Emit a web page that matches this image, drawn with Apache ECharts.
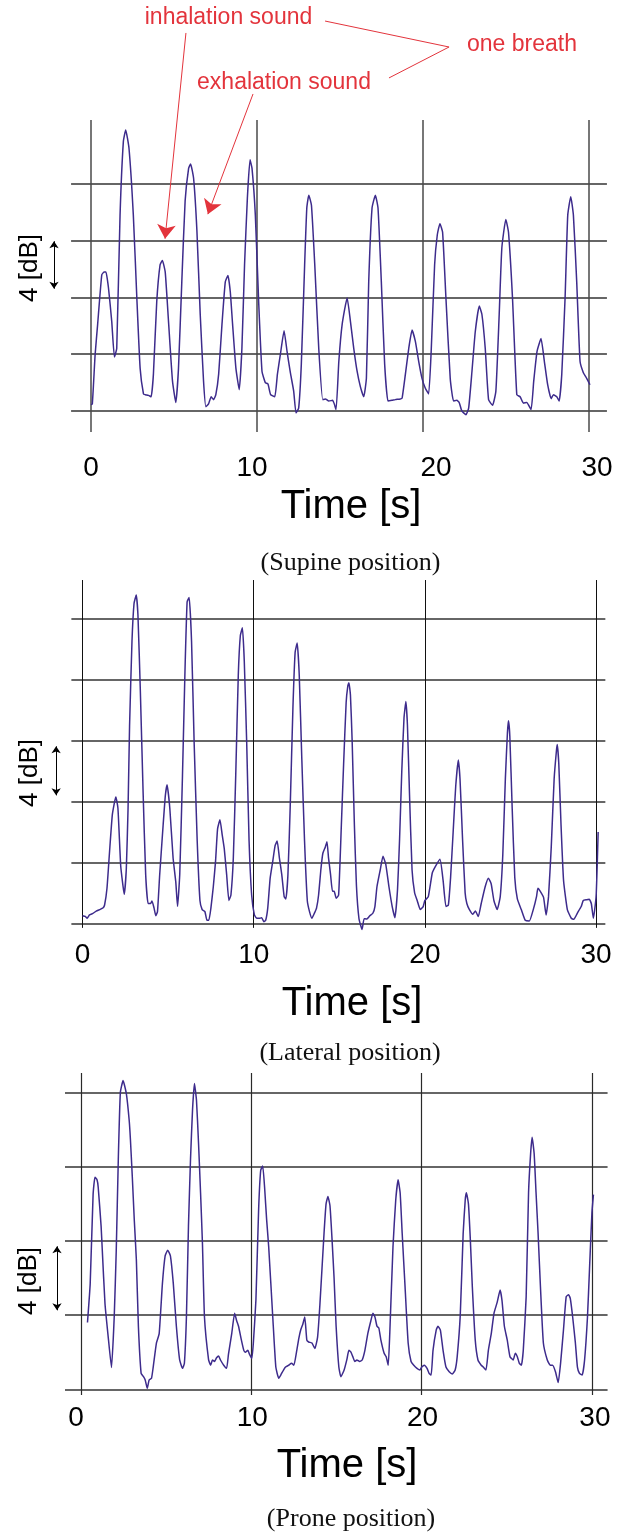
<!DOCTYPE html>
<html>
<head>
<meta charset="utf-8">
<title>Breath sound level in three positions</title>
<script src="https://cdn.jsdelivr.net/npm/echarts@6/dist/echarts.min.js"></script>
<style>
  html, body { margin: 0; padding: 0; background: #ffffff; }
  #chart { width: 628px; height: 1533px; }
</style>
</head>
<body>
<div id="chart"></div>
<script>
// ---- data: sound level (dB, relative) against time (s) ----
const timeTicks = [0, 10, 20, 30];

const supineTime = [
  0, 0.08, 0.25, 0.4, 0.65, 0.8, 0.9, 1.05, 1.25, 1.41,
  1.55, 1.75, 1.95, 2.09, 2.29, 2.55, 2.76, 2.96, 3.16, 3.26,
  3.46, 3.62, 3.76, 3.96, 4.16, 4.30, 4.47, 4.67, 4.91, 5.11,
  5.27, 5.47, 5.67, 5.88, 6.0, 6.18, 6.38, 6.58, 6.78, 6.92,
  7.08, 7.24, 7.38, 7.52, 7.69, 7.89, 8.09, 8.25, 8.39, 8.53,
  8.73, 8.93, 9.09, 9.25, 9.42, 9.58, 9.70, 9.90, 10.1, 10.3,
  10.5, 10.66, 10.82, 11.07, 11.23, 11.41, 11.63, 11.81, 12.01, 12.21,
  12.35, 12.51, 12.67, 12.87, 13.0, 13.12, 13.28, 13.48, 13.72, 13.96,
  14.12, 14.32, 14.56, 14.76, 14.93, 15.13, 15.43, 15.63, 15.83, 16.03,
  16.23, 16.43, 16.59, 16.73, 16.93, 17.13, 17.29, 17.49, 17.69, 17.89,
  18.13, 18.33, 18.63, 18.74, 18.94, 19.14, 19.34, 19.54, 19.74, 19.94,
  20.14, 20.34, 20.5, 20.7, 20.86, 21.02, 21.18, 21.38, 21.64, 21.84,
  22.04, 22.18, 22.34, 22.59, 22.75, 22.95, 23.15, 23.39, 23.55, 23.75,
  23.95, 24.19, 24.39, 24.59, 24.75, 24.99, 25.15, 25.39, 25.65, 25.85,
  26.05, 26.25, 26.51, 26.67, 26.87, 27.11, 27.31, 27.51, 27.72, 27.86,
  28.06, 28.2, 28.36, 28.56, 28.72, 28.9, 29.06, 29.26, 29.46, 29.66,
  29.86, 30.06
];
const supineLevel = [
  0.45, 0.5, 4.0, 6.1, 9.6, 9.8, 9.8, 8.7, 6.3, 3.8,
  4.4, 13.8, 19.0, 19.8, 18.5, 13.8, 8.0, 3.0, 1.2, 1.15,
  1.1, 1.0, 2.6, 7.7, 10.3, 10.6, 9.8, 6.3, 2.1, 0.6,
  3.0, 9.1, 14.8, 17.1, 17.4, 16.4, 12.7, 6.8, 2.1, 0.3,
  0.5, 1.0, 0.8, 1.15, 2.6, 6.1, 9.1, 9.55, 8.4, 6.1,
  3.0, 1.5, 4.4, 10.3, 15.0, 17.7, 17.1, 13.8, 7.7, 2.8,
  2.0, 1.9, 1.15, 1.0, 2.6, 4.0, 5.66, 4.2, 2.7, 1.4,
  -0.14, 0.2, 3.3, 10.3, 14.3, 15.2, 14.5, 10.3, 4.4, 0.8,
  0.85, 0.7, 0.75, 0.1, 3.5, 6.1, 7.96, 6.3, 4.4, 2.8,
  1.7, 1.0, 2.3, 9.1, 14.3, 15.2, 14.3, 9.1, 3.3, 0.7,
  0.75, 0.8, 0.85, 0.9, 2.6, 4.4, 5.7, 4.9, 3.5, 2.3,
  1.6, 1.2, 4.4, 10.3, 12.4, 13.2, 12.6, 8.0, 2.3, 0.7,
  0.75, 0.6, 0.0, -0.26, 0.2, 2.8, 5.6, 7.4, 6.8, 4.4,
  0.8, 0.4, 1.4, 6.8, 11.5, 13.5, 12.6, 8.0, 1.15, 1.0,
  0.55, 0.6, 0.1, 2.1, 4.2, 5.1, 3.5, 1.85, 0.87, 1.15,
  1.0, 0.7, 2.6, 8.0, 13.8, 15.1, 13.8, 9.1, 3.5, 2.7,
  2.3, 1.85
];

const lateralTime = [
  0.00, 0.16, 0.27, 0.41, 0.61, 0.80, 1.00, 1.19, 1.29, 1.43,
  1.58, 1.74, 1.88, 1.95, 2.07, 2.23, 2.36, 2.44, 2.56, 2.66,
  2.75, 2.89, 3.01, 3.14, 3.24, 3.38, 3.54, 3.69, 3.83, 3.98,
  4.06, 4.18, 4.28, 4.38, 4.51, 4.71, 4.84, 4.94, 5.10, 5.29,
  5.45, 5.55, 5.68, 5.84, 5.98, 6.11, 6.23, 6.37, 6.52, 6.70,
  6.86, 6.99, 7.15, 7.27, 7.38, 7.50, 7.64, 7.77, 7.89, 8.03,
  8.16, 8.28, 8.42, 8.55, 8.67, 8.81, 8.95, 9.10, 9.22, 9.34,
  9.45, 9.59, 9.73, 9.88, 10.04, 10.18, 10.37, 10.47, 10.59, 10.70,
  10.82, 10.96, 11.11, 11.25, 11.37, 11.50, 11.64, 11.78, 11.88, 12.00,
  12.13, 12.29, 12.42, 12.54, 12.66, 12.81, 12.97, 13.13, 13.26, 13.40,
  13.54, 13.67, 13.79, 13.93, 14.04, 14.18, 14.28, 14.37, 14.49, 14.60,
  14.70, 14.82, 14.96, 15.12, 15.25, 15.40, 15.50, 15.56, 15.65, 15.75,
  15.88, 16.00, 16.15, 16.33, 16.45, 16.61, 16.77, 16.96, 17.08, 17.20,
  17.39, 17.55, 17.71, 17.90, 18.09, 18.25, 18.40, 18.52, 18.65, 18.78,
  18.89, 18.98, 19.10, 19.25, 19.40, 19.55, 19.73, 19.90, 20.00, 20.20,
  20.43, 20.60, 20.88, 21.06, 21.23, 21.37, 21.50, 21.65, 21.80, 21.95,
  22.05, 22.20, 22.35, 22.45, 22.60, 22.80, 22.95, 23.12, 23.29, 23.52,
  23.71, 23.87, 24.03, 24.22, 24.40, 24.55, 24.70, 24.82, 24.88, 24.96,
  25.10, 25.25, 25.40, 25.63, 25.86, 26.10, 26.33, 26.52, 26.60, 26.74,
  26.93, 27.08, 27.22, 27.38, 27.55, 27.68, 27.73, 27.82, 27.95, 28.10,
  28.32, 28.55, 28.70, 28.90, 29.13, 29.25, 29.45, 29.60, 29.72, 29.84,
  30.00, 30.12
];
const lateralLevel = [
  0.5, 0.45, 0.33, 0.55, 0.65, 0.8, 0.9, 1.0, 1.2, 2.3,
  4.7, 7.1, 8.0, 8.3, 7.55, 3.8, 2.5, 1.9, 3.6, 7.5,
  13.0, 18.5, 21.0, 21.55, 20.2, 15.2, 8.6, 3.2, 1.3, 1.3,
  1.47, 1.0, 0.5, 0.77, 3.2, 6.45, 8.4, 9.1, 7.55, 4.3,
  2.7, 1.1, 3.2, 9.7, 16.3, 21.1, 21.4, 18.5, 11.9, 5.4,
  1.5, 0.9, 0.77, 0.2, 0.2, 1.0, 2.4, 4.05, 6.2, 6.8,
  5.8, 4.9, 3.2, 1.5, 1.86, 4.3, 9.7, 16.3, 18.9, 19.4,
  17.2, 11.9, 5.4, 1.86, 0.55, 0.33, 0.33, 0.37, 0.1, 0.2,
  1.0, 2.95, 4.05, 5.1, 5.4, 4.3, 3.2, 1.75, 1.6, 3.2,
  7.55, 14.1, 17.8, 18.4, 16.3, 10.8, 5.4, 1.5, 0.77, 0.33,
  0.65, 1.0, 1.86, 3.6, 4.6, 5.0, 5.36, 4.3, 3.2, 2.1,
  2.1, 1.64, 1.86, 6.45, 10.4, 14.5, 15.6, 15.8, 15.0, 12.0,
  6.5, 2.5, 0.3, -0.4, 0.3, 0.28, 0.48, 0.66, 1.1, 2.4,
  3.5, 4.4, 3.9, 2.4, 1.1, 0.37, 2.2, 5.5, 10.0, 13.5,
  14.56, 13.0, 8.5, 3.5, 2.0, 1.5, 0.9, 1.1, 1.5, 1.75,
  3.3, 3.7, 4.2, 2.85, 1.1, 1.2, 3.0, 6.0, 9.0, 10.73,
  9.5, 5.5, 2.0, 1.3, 0.9, 0.6, 0.8, 0.44, 1.3, 2.4,
  2.96, 2.6, 1.5, 0.9, 1.75, 4.5, 9.5, 12.5, 13.3, 12.3,
  7.5, 3.0, 1.6, 0.9, 0.2, 0.15, 0.9, 1.75, 2.3, 2.1,
  1.7, 0.55, 1.75, 5.0, 9.5, 11.3, 11.74, 10.5, 6.5, 2.8,
  0.9, 0.33, 0.26, 0.66, 1.1, 1.5, 1.55, 1.58, 1.3, 0.33,
  1.75, 6.0
];

const proneTime = [
  0.38, 0.54, 0.71, 0.82, 0.94, 1.01, 1.18, 1.25, 1.41, 1.60,
  1.79, 1.95, 2.07, 2.19, 2.31, 2.47, 2.66, 2.83, 2.90, 3.01,
  3.13, 3.25, 3.37, 3.53, 3.67, 3.77, 3.89, 4.00, 4.14, 4.24,
  4.43, 4.59, 4.78, 4.94, 5.09, 5.25, 5.42, 5.60, 5.79, 5.96,
  6.07, 6.19, 6.31, 6.43, 6.55, 6.66, 6.78, 6.90, 7.02, 7.13,
  7.25, 7.49, 7.61, 7.72, 7.84, 7.96, 8.08, 8.19, 8.38, 8.55,
  8.66, 8.85, 9.02, 9.14, 9.25, 9.42, 9.56, 9.65, 9.80, 9.89,
  10.03, 10.12, 10.27, 10.43, 10.55, 10.67, 10.78, 10.90, 11.02, 11.26,
  11.44, 11.61, 11.73, 11.89, 12.01, 12.20, 12.36, 12.50, 12.67, 12.79,
  12.90, 13.02, 13.14, 13.26, 13.37, 13.56, 13.73, 13.89, 14.03, 14.27,
  14.39, 14.50, 14.62, 14.74, 14.86, 14.98, 15.14, 15.26, 15.45, 15.61,
  15.73, 15.85, 15.96, 16.08, 16.20, 16.36, 16.51, 16.67, 16.84, 17.02,
  17.14, 17.26, 17.38, 17.49, 17.61, 17.80, 17.92, 18.04, 18.13, 18.32,
  18.48, 18.62, 18.74, 18.86, 19.03, 19.21, 19.38, 19.54, 19.73, 19.90,
  20.01, 20.16, 20.32, 20.44, 20.56, 20.67, 20.86, 20.96, 21.10, 21.26,
  21.43, 21.62, 21.80, 21.97, 22.09, 22.27, 22.44, 22.56, 22.63, 22.75,
  22.86, 22.98, 23.15, 23.31, 23.50, 23.62, 23.78, 23.92, 24.09, 24.25,
  24.44, 24.61, 24.72, 24.86, 25.03, 25.19, 25.38, 25.50, 25.62, 25.74,
  25.86, 25.97, 26.14, 26.28, 26.40, 26.49, 26.61, 26.72, 26.84, 26.98,
  27.15, 27.38, 27.55, 27.69, 27.86, 28.02, 28.16, 28.33, 28.49, 28.63,
  28.73, 28.87, 29.03, 29.15, 29.27, 29.43, 29.57, 29.74, 29.86, 30.00,
  30.09
];
const proneLevel = [
  3.6, 5.7, 10.5, 11.44, 11.3, 10.9, 8.8, 7.5, 4.6, 2.8,
  1.17, 3.9, 7.5, 12.4, 16.0, 16.65, 15.96, 14.5, 13.5, 11.5,
  9.1, 7.0, 3.4, 0.86, 0.68, 0.5, 0.05, 0.5, 0.6, 1.2,
  2.5, 3.0, 5.7, 7.2, 7.5, 7.2, 5.7, 3.4, 1.6, 1.13,
  1.4, 3.9, 8.8, 12.4, 15.1, 16.5, 15.6, 13.3, 10.6, 7.9,
  3.9, 1.6, 1.3, 1.58, 1.5, 1.7, 1.8, 1.58, 1.3, 1.13,
  1.9, 3.0, 4.1, 3.7, 3.4, 2.65, 2.1, 2.0, 2.1, 1.9,
  1.67, 2.5, 4.8, 9.7, 11.8, 12.05, 10.9, 9.15, 7.7, 3.9,
  1.2, 0.6, 0.77, 1.04, 1.2, 1.3, 1.4, 1.3, 2.1, 2.75,
  3.2, 3.5, 3.9, 2.65, 2.55, 2.5, 2.2, 2.8, 4.6, 8.4,
  10.0, 10.4, 9.9, 8.1, 6.0, 3.4, 1.2, 0.68, 1.04, 1.6,
  2.1, 2.0, 1.76, 1.5, 1.58, 1.5, 1.58, 2.1, 3.0, 3.7,
  4.1, 3.9, 3.4, 3.3, 2.65, 1.94, 1.76, 1.3, 3.0, 7.7,
  10.2, 11.3, 10.6, 8.4, 5.5, 2.5, 1.5, 1.3, 1.13, 1.04,
  1.2, 1.3, 1.13, 0.86, 0.77, 2.1, 3.2, 3.4, 3.2, 2.1,
  1.2, 0.95, 0.83, 1.04, 1.76, 4.0, 8.4, 10.2, 10.6, 10.0,
  8.1, 5.5, 2.65, 1.58, 1.3, 1.2, 1.04, 2.1, 3.0, 4.1,
  4.7, 5.35, 4.8, 3.4, 2.65, 1.76, 1.58, 1.94, 1.76, 1.4,
  1.3, 2.1, 5.0, 10.6, 12.7, 13.6, 12.7, 10.6, 8.4, 5.5,
  2.5, 1.58, 1.3, 1.3, 0.95, 0.36, 1.4, 3.2, 5.0, 5.1,
  4.9, 3.9, 2.5, 1.2, 0.86, 0.77, 1.58, 3.9, 6.5, 9.5,
  10.5
];

// horizontal reference levels, one line every 4 dB
const supineGridLevels = [0, 4, 8, 12, 16];
const lateralGridLevels = [0, 4, 8, 12, 16, 20];
const proneGridLevels = [0, 4, 8, 12, 16];

// ---- layout and style of the three panels ----
const TRACE = '#3d2b8c';
const RED = '#e3343c';
const SANS = 'Liberation Sans, Arial, sans-serif';
const SERIF = 'Liberation Serif, Times New Roman, serif';

const panels = [
  {
    time: supineTime, level: supineLevel, levels: supineGridLevels,
    grid: { left: 8.0, top: 6.56, width: 614.2, height: 443.44 },
    xRange: [-5, 32], yRange: [-2.75, 28.5],
    vSpan: [-1.48, 20.5], hSpan: [-1.2, 31.08],
    vLine: { color: '#4a4a4a', width: 1.5 }, hLine: { color: '#333333', width: 1.5 },
    dbArrow: { t: -2.23, from: 11.96, to: 8.62 },
    labelShift: [0, -5, 13, 8],
    dbText: [30, 268], timeText: [351, 507], caption: [350.5, 563], captionText: '(Supine position)'
  },
  {
    time: lateralTime, level: lateralLevel, levels: lateralGridLevels,
    grid: { left: 5.46, top: 573.01, width: 616.32, height: 364.0 },
    xRange: [-4.5, 31.5], yRange: [-0.9, 23],
    vSpan: [-0.3, 22.54], hSpan: [-0.65, 30.54],
    vLine: { color: '#111111', width: 1 }, hLine: { color: '#333333', width: 1.6 },
    dbArrow: { t: -1.54, from: 11.62, to: 8.4 },
    labelShift: [0, 0, 0, 0],
    dbText: [30, 773], timeText: [352, 1004], caption: [350, 1053], captionText: '(Lateral position)'
  },
  {
    time: proneTime, level: proneLevel, levels: proneGridLevels,
    grid: { left: 4.37, top: 1064.85, width: 613.08, height: 335.57 },
    xRange: [-4.5, 31.5], yRange: [-0.6, 17.5],
    vSpan: [-0.31, 17.06], hSpan: [-0.94, 30.92],
    vLine: { color: '#2a2a2a', width: 1.2 }, hLine: { color: '#333333', width: 1.6 },
    dbArrow: { t: -1.41, from: 7.71, to: 4.26 },
    labelShift: [-5, 1, 1, 3],
    dbText: [29, 1281], timeText: [347, 1466], caption: [351, 1519], captionText: '(Prone position)'
  }
];

function zip(xs, ys) {
  const n = Math.min(xs.length, ys.length);
  const out = [];
  for (let i = 0; i < n; i++) out.push([xs[i], ys[i]]);
  return out;
}

function tickRich(shifts) {
  const rich = {};
  shifts.forEach((s, i) => {
    rich['k' + i] = {
      fontSize: 28, fontFamily: SANS, color: '#000',
      padding: [0, s < 0 ? -2 * s : 0, 0, s > 0 ? 2 * s : 0]
    };
  });
  return rich;
}

const grids = [], xAxes = [], yAxes = [], series = [], graphics = [];

panels.forEach((p, i) => {
  grids.push(Object.assign({ containLabel: false }, p.grid));
  xAxes.push({
    type: 'value', gridIndex: i, min: p.xRange[0], max: p.xRange[1],
    axisLine: { show: false }, axisTick: { show: false }, splitLine: { show: false },
    axisLabel: {
      customValues: timeTicks, margin: 4,
      fontSize: 28, fontFamily: SANS, color: '#000',
      formatter: (v) => {
        const k = timeTicks.indexOf(v);
        return '{k' + (k < 0 ? 0 : k) + '|' + v + '}';
      },
      rich: tickRich(p.labelShift)
    }
  });
  yAxes.push({
    type: 'value', gridIndex: i, min: p.yRange[0], max: p.yRange[1], show: false
  });

  // reference grid: horizontal level lines and vertical time lines
  const hLines = p.levels.map(L => ({ coords: [[p.hSpan[0], L], [p.hSpan[1], L]], lineStyle: p.hLine }));
  const vLines = timeTicks.map(T => ({ coords: [[T, p.vSpan[0]], [T, p.vSpan[1]]], lineStyle: p.vLine }));
  series.push({
    type: 'lines', coordinateSystem: 'cartesian2d', xAxisIndex: i, yAxisIndex: i,
    silent: true, z: 1, polyline: false,
    lineStyle: { opacity: 1, curveness: 0 },
    data: hLines.concat(vLines)
  });

  // 4 dB scale bar
  series.push({
    type: 'lines', coordinateSystem: 'cartesian2d', xAxisIndex: i, yAxisIndex: i,
    silent: true, z: 2, symbol: ['arrow', 'arrow'], symbolSize: 7,
    lineStyle: { color: '#000', width: 1, opacity: 1, curveness: 0 },
    data: [{ coords: [[p.dbArrow.t, p.dbArrow.from], [p.dbArrow.t, p.dbArrow.to]] }]
  });

  // measured sound level
  series.push({
    type: 'line', xAxisIndex: i, yAxisIndex: i, z: 3,
    data: zip(p.time, p.level), showSymbol: false, symbol: 'none', smooth: 0.15,
    lineStyle: { color: TRACE, width: 1.5 }
  });

  graphics.push({
    type: 'text', x: p.dbText[0], y: p.dbText[1], rotation: Math.PI / 2, silent: true,
    style: { text: '4 [dB]', fontSize: 26, fontFamily: SANS, fill: '#000',
      align: 'center', verticalAlign: 'middle', textAlign: 'center', textVerticalAlign: 'middle' }
  });
  graphics.push({
    type: 'text', x: p.timeText[0], y: p.timeText[1], silent: true,
    style: { text: 'Time [s]', fontSize: 40, fontFamily: SANS, fill: '#000',
      align: 'center', verticalAlign: 'middle', textAlign: 'center', textVerticalAlign: 'middle' }
  });
  graphics.push({
    type: 'text', x: p.caption[0], y: p.caption[1], silent: true,
    style: { text: p.captionText, fontSize: 26, fontFamily: SERIF, fill: '#111',
      align: 'center', verticalAlign: 'middle', textAlign: 'center', textVerticalAlign: 'middle' }
  });
});

// annotation of one breath in the supine panel
series.push({
  type: 'lines', coordinateSystem: 'cartesian2d', xAxisIndex: 0, yAxisIndex: 0,
  silent: true, z: 4, symbol: ['none', 'arrow'], symbolSize: 14,
  lineStyle: { color: RED, width: 1, opacity: 1, curveness: 0 },
  data: [
    { coords: [[5.72, 26.64], [4.46, 12.14]] },
    { coords: [[9.76, 22.34], [7.04, 13.87]] }
  ]
});
series.push({
  type: 'lines', coordinateSystem: 'cartesian2d', xAxisIndex: 0, yAxisIndex: 0,
  silent: true, z: 4,
  lineStyle: { color: RED, width: 1, opacity: 1, curveness: 0 },
  data: [
    { coords: [[14.1, 27.48], [21.57, 25.65]] },
    { coords: [[21.57, 25.65], [17.95, 23.47]] }
  ]
});
[['inhalation sound', 228.5, 18], ['exhalation sound', 284, 83], ['one breath', 522, 45]].forEach(a => {
  graphics.push({
    type: 'text', x: a[1], y: a[2], silent: true,
    style: { text: a[0], fontSize: 23, fontFamily: SANS, fill: RED,
      align: 'center', verticalAlign: 'middle', textAlign: 'center', textVerticalAlign: 'middle' }
  });
});

const chart = echarts.init(document.getElementById('chart'), null, { renderer: 'canvas' });
chart.setOption({
  backgroundColor: '#ffffff',
  animation: false,
  grid: grids,
  xAxis: xAxes,
  yAxis: yAxes,
  series: series,
  graphic: { elements: graphics }
});
</script>
</body>
</html>
